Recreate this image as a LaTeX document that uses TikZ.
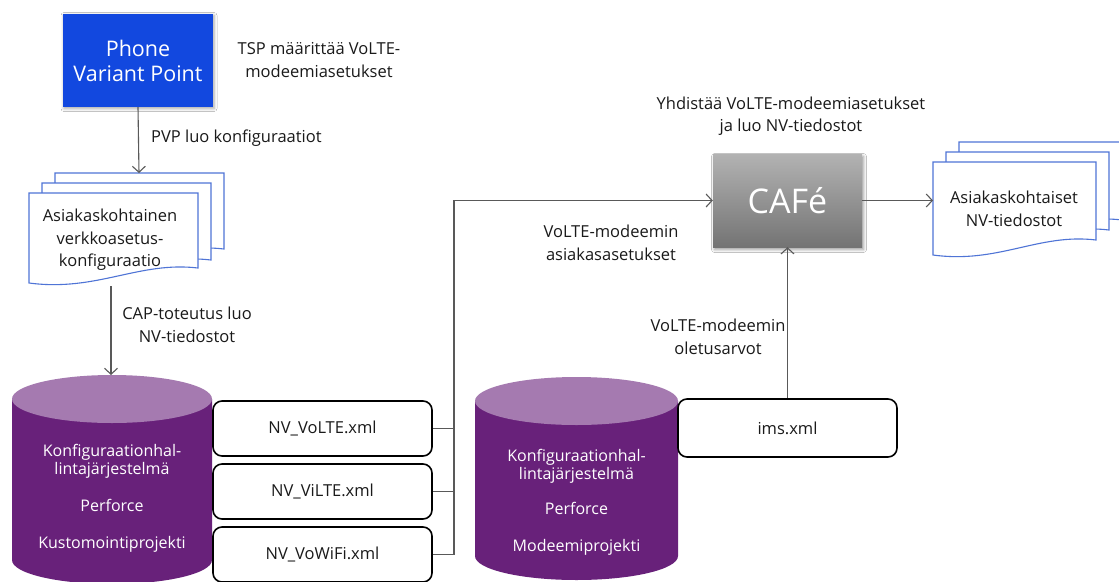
\documentclass[tikz,border=0pt]{standalone}
\usepackage{fontspec}
\setmainfont{Open Sans}
\usetikzlibrary{arrows.meta,shadows.blur}

\definecolor{pvpblue}{HTML}{1248DF}
\definecolor{cylbody}{HTML}{68217A}
\definecolor{cyltop}{HTML}{A57AB0}
\definecolor{docblue}{HTML}{4F74D6}
\definecolor{linegray}{HTML}{595959}
\definecolor{txt}{HTML}{1A1A1A}

% document page with a wavy bottom: x0, top y, x1, right bottom y, left bottom y
\newcommand\docpage[5]{%
  \filldraw[fill=white, draw=docblue, line width=1.1pt]
    (#1,#2) -- (#3,#2) -- (#3,#4)
    .. controls ({#3-0.35*(#3-#1)},{#4-7}) and ({#1+0.40*(#3-#1)},{#5+9}) .. (#1,#5) -- cycle;}

% cylinder: centre x, x radius, top centre y, bottom centre y, y radius
\newcommand\drawcyl[5]{%
  \fill[cylbody] ({#1-#2},#3) -- ({#1-#2},#4)
    arc[start angle=180, end angle=0, x radius=#2, y radius=#5] -- ({#1+#2},#3) -- cycle;
  \fill[cyltop] (#1,#3) ellipse[x radius=#2, y radius=#5];}

\begin{document}
\begin{tikzpicture}[x=1pt, y=-1pt,
  lbl/.style={align=center, text=txt, inner sep=0,
    font=\fontsize{16.5}{22.5}\selectfont},
  cyltext/.style={align=center, text=white, inner sep=0,
    font=\fontsize{16}{18}\selectfont},
  flow/.style={draw=linegray, line width=1.1pt,
    -{Straight Barb[length=6pt, width=13pt, line width=1.1pt]}},
  wire/.style={draw=linegray, line width=1.1pt},
  xmlbox/.style={draw=black, line width=1.6pt, rounded corners=9pt,
    fill=white, minimum width=219pt, inner sep=0, text=txt,
    font=\fontsize{16.5}{18}\selectfont},
  pvpbox/.style={fill=pvpblue, minimum width=150pt, minimum height=93pt,
    align=center, text=white, inner sep=0,
    font=\fontsize{21.5}{25}\selectfont,
    blur shadow={shadow xshift=1pt, shadow yshift=-1.5pt,
      shadow blur radius=3pt, shadow opacity=35}},
  cafebox/.style={top color=gray!60, bottom color=gray!85!black!95,
    minimum width=149pt, minimum height=93pt, inner sep=0, text=white,
    font=\fontsize{34}{40}\selectfont,
    blur shadow={shadow xshift=1.5pt, shadow yshift=-2.5pt,
      shadow blur radius=3pt, shadow opacity=40}},
]
\useasboundingbox (0,0) rectangle (1119,581);
\fill[white] (0,0) rectangle (1119,581);

% ---------- Phone Variant Point ----------
\node[pvpbox] (pvp) at (138,60.5) {Phone\\Variant Point};
\node[lbl] (tsp) at (319,60) {TSP määrittää VoLTE-\\modeemiasetukset};

% ---------- customer network configuration (document stack) ----------
\docpage{55}{173}{224}{249}{264}
\docpage{42}{183}{211}{260}{274}
\docpage{29}{193}{198}{268}{283}
\coordinate (doc1top) at (139,173);
\coordinate (doc1bot) at (111,286);
\node[lbl] (doc1) at (110,240) {Asiakaskohtainen\\verkkoasetus-\\konfiguraatio};

\draw[flow] (pvp.south) -- (doc1top);
\node[lbl, anchor=west] (pvplbl) at (151,138) {PVP luo konfiguraatiot};

% ---------- customization project repository ----------
\drawcyl{112}{100}{399}{560}{24}
\coordinate (cyl1top) at (111,375);
\node[cyltext] (cyl1) at (112,498.5)
  {Konfiguraationhal-\\lintajärjestelmä\\[19pt]Perforce\\[19pt]Kustomointiprojekti};

\draw[flow] (doc1bot) -- (cyl1top);
\node[lbl] (caplbl) at (187,325) {CAP-toteutus luo\\NV-tiedostot};

% ---------- NV xml files ----------
\node[xmlbox, minimum height=55pt] (volte) at (322.5,428.5) {NV\_VoLTE.xml};
\node[xmlbox, minimum height=55pt] (vilte) at (322.5,491.5) {NV\_ViLTE.xml};
\node[xmlbox, minimum height=55pt] (vowifi) at (322.5,554.5) {NV\_VoWiFi.xml};

% ---------- modem project repository ----------
\drawcyl{576.5}{101.5}{401}{556}{24}
\node[cyltext] (cyl2) at (576.5,502)
  {Konfiguraationhal-\\lintajärjestelmä\\[17pt]Perforce\\[19pt]Modeemiprojekti};
\node[xmlbox, minimum height=58pt] (ims) at (787.5,428) {ims.xml};

% ---------- CAFé ----------
\node[cafebox] (cafe) at (787.5,200.5) {CAFé};
\node[lbl] (cafelbl) at (791,116) {Yhdistää VoLTE-modeemiasetukset\\ja luo NV-tiedostot};

% ---------- customer NV files (document stack) ----------
\docpage{959}{142}{1122}{220}{235}
\docpage{946}{152}{1109}{230}{245}
\docpage{933}{162}{1096}{240}{255}
\coordinate (doc2left) at (933,200.5);
\node[lbl] (doc2) at (1014,209) {Asiakaskohtaiset\\NV-tiedostot};

% ---------- connectors ----------
\coordinate (bus) at (454,0);
\draw[wire] (volte.east) -- (volte.east -| bus);
\draw[wire] (vilte.east) -- (vilte.east -| bus);
\draw[flow] (vowifi.east) -- (vowifi.east -| bus) |- (cafe.west);
\node[lbl] (custlbl) at (611,243) {VoLTE-modeemin\\asiakasasetukset};

\draw[flow] (ims.north) -- (cafe.south);
\node[lbl] (deflbl) at (718,337) {VoLTE-modeemin\\oletusarvot};

\draw[flow] (cafe.east) -- (doc2left);
\end{tikzpicture}
\end{document}
